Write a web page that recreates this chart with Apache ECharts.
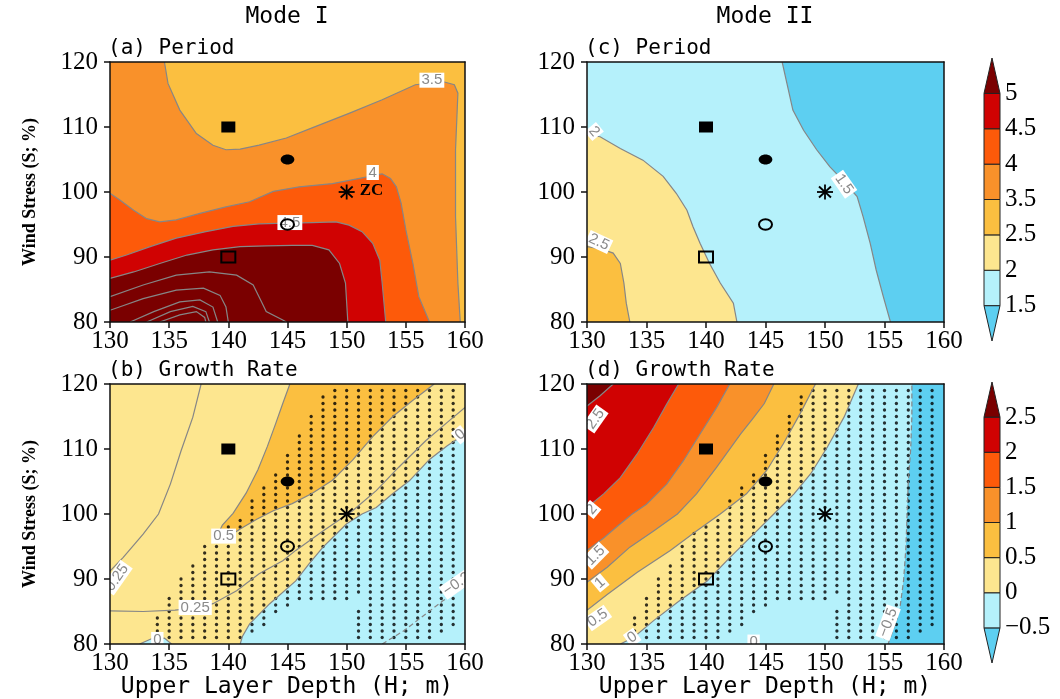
<!DOCTYPE html>
<html><head><meta charset="utf-8">
<script src="https://cdn.jsdelivr.net/npm/echarts@6/dist/echarts.min.js"></script>
<style>html,body{margin:0;padding:0;background:#fff}#c{width:1060px;height:699px}</style>
</head><body><div id="c"></div>
<script>
// ================= DATA =================
const xTicks = [130, 135, 140, 145, 150, 155, 160];
const yTicks = [80, 90, 100, 110, 120];
// colour bins, lowest to highest
const binColors = ['#5dcff1', '#b5f1fb', '#fde68f', '#fbbf40', '#f9912a', '#fd5a0a', '#d00202', '#7a0000'];
const periodBarLabels = ['1.5', '2', '2.5', '3.5', '4', '4.5', '5'];
const growthBarLabels = ['\u22120.5', '0', '0.5', '1', '1.5', '2', '2.5'];

// experiment markers (H, S)
const markerX = [140, 145, 150, 145, 140];
const markerY = [110, 105, 100, 95, 90];
const markerKind = ['fsquare', 'fcircle', 'star', 'ocircle', 'osquare'];

// ---- panel (a) Mode I period contours [H, S]
const a_c35 = [[134.6,120],[134.9,116.7],[135.9,112.6],[137.3,109.0],[138.7,107.2],[139.8,106.5],[141.0,106.6],[142.6,107.2],[144.9,108.3],[147.4,110.1],[150.2,112.1],[153.0,114.2],[155.8,116.5],[158.1,117.0],[159.1,116.5],[159.4,115.2],[159.2,106.5],[159.2,96.2],[159.4,86.0],[159.6,80]];
const a_c4 = [[130,99.8],[130.8,98.8],[132.0,97.2],[133.1,95.9],[134.2,95.4],[135.6,95.7],[137.6,96.7],[139.8,97.7],[141.8,98.5],[143.8,100.1],[146.0,100.8],[148.8,101.3],[151.1,102.1],[153.0,102.8],[153.7,102.1],[154.2,100.8],[154.6,98.3],[155.0,94.2],[155.6,89.0],[156.1,83.9],[157.0,80]];
const a_c45 = [[130,89.5],[131.4,90.3],[133.4,91.6],[135.6,92.9],[138.1,93.9],[140.4,94.7],[142.6,95.1],[144.9,95.2],[147.1,95.3],[149.1,95.4],[150.2,94.9],[151.3,93.9],[152.2,92.1],[152.8,89.5],[153.0,86.0],[153.3,80]];
const a_c5 = [[130,86.7],[132.0,87.7],[134.2,89.0],[136.5,90.3],[138.7,91.1],[141.0,91.6],[143.2,91.7],[145.4,91.8],[147.1,91.8],[148.5,91.1],[149.4,89.0],[149.9,86.0],[150.1,80]];
const a_c55 = [[130,83.9],[132.8,85.7],[135.6,87.2],[138.4,87.7],[140.7,87.2],[142.1,85.7],[142.8,83.1],[143.2,81.6],[144.6,80.3],[144.9,80]];
const a_c6 = [[130,81.8],[132.8,83.6],[135.6,84.9],[137.9,85.2],[139.3,84.1],[139.8,82.3],[140,80]];
const a_c65 = [[131.7,80],[133.7,81.6],[135.9,83.1],[137.6,83.4],[138.7,82.3],[139.1,80]];
const a_c7 = [[133.1,80],[135.1,81.6],[137.0,82.4],[138.1,81.6],[138.4,80]];
const a_c75 = [[134.2,80],[135.9,81.1],[137.3,81.6],[138.0,80.7],[138.1,80]];

// ---- panel (c) Mode II period contours
const c_c15 = [[146.4,120],[146.8,116.7],[147.3,112.6],[148.2,109.5],[149.3,106.5],[150.4,103.9],[151.5,101.8],[152.7,99.3],[153.2,96.2],[153.8,92.1],[154.3,88.0],[154.9,83.9],[155.5,80]];
const c_c2 = [[130,108.8],[131.1,108.5],[132.8,106.7],[134.7,104.9],[136.4,102.4],[137.5,99.8],[138.4,97.2],[138.9,94.7],[139.5,92.1],[140.3,89.0],[141.2,86.0],[142.3,82.9],[142.6,80]];
const c_c25 = [[130,91.6],[131.1,91.3],[132.2,90.6],[132.8,89.0],[133.1,86.0],[133.3,82.9],[133.6,80]];

// ---- panel (b) Mode I growth-rate contours
const b_c05 = [[145.2,120],[144.6,117.0],[144.0,113.9],[143.3,110.4],[142.5,106.8],[141.5,103.2],[140.4,100.1],[139.5,98.3],[139.1,96.8],[139.2,96.1],[139.9,96.4],[141.0,97.7],[142.4,99.2],[143.8,100.5],[145.4,101.6],[147.1,103.2],[148.8,105.2],[150.5,108.3],[152.2,111.9],[153.9,115.0],[155.6,117.5],[157.4,120]];
const b_c0 = [[160,112.3],[158.5,110.5],[157,108.4],[155.3,105.1],[153.8,103],[152.5,101],[151.3,100],[150,98.5],[148,94.9],[146.8,92.3],[145.7,89.7],[143.5,86.2],[141.8,83.1],[141.2,81.2],[141,80]];
const b_c0patch = [[132.5,80],[133.5,80.8],[134.6,80.9],[135.2,80]];
const b_c025a = [[137.7,120],[137.0,114.9],[136.0,109.7],[135.1,104.6],[134.1,100],[132.8,96.9],[131.1,93.3],[130,91.2]];
const b_c025b = [[130,85.1],[132.8,85.0],[135.5,85.2],[137.5,85.6],[138.7,86.2],[140.7,88.2],[142.6,90.8],[144.6,92.8],[145.7,94.4],[148,97.4],[149.7,99.5],[150.5,100.5],[152.5,103.6],[154.4,107.2],[156.7,111.3],[158.7,114.4],[160,116.4]];
const b_cm025 = [[153.0,80],[154.8,82.0],[156.6,84.5],[158.1,86.6],[160,88.8]];

// ---- panel (d) Mode II growth-rate contours
const d_c25 = [[130,116.6],[131.1,118.2],[132.2,120]];
const d_c2 = [[137.7,120],[136.7,116.9],[135.6,113.3],[134.2,109.2],[132.8,105.6],[131.4,103.1],[130,101.0]];
const d_c15 = [[142.0,120],[140.9,116.4],[139.5,112.3],[138.1,108.2],[136.7,104.6],[135.0,101.5],[133.8,100],[132.6,98.2],[131.4,96.3],[130,94.4]];
const d_c1 = [[145.7,120],[144.9,117],[143.9,114.6],[142.9,112.3],[140.9,107.2],[139.2,103.1],[137.6,100],[135.6,97.4],[133.6,94.9],[131.7,91.8],[130,89.5]];
const d_c05 = [[149.2,120],[147.9,115.4],[146.5,110.8],[145.1,106.7],[143.4,103.1],[141.2,100],[139.2,97.4],[137,94.4],[134.2,91.0],[131.7,87.6],[130,85.2]];
const d_c0 = [[152.8,120],[151.6,114.9],[150.2,110.3],[148.8,106.2],[147.4,103.1],[145.7,100],[144,96.9],[142,93.3],[140.1,89.7],[137.8,86.7],[135.6,83.6],[133.9,81],[132.8,80]];
const d_cm05 = [[155.3,80],[155.8,82.6],[156.3,85.6],[156.6,89.7],[156.8,94.9],[156.9,100],[157.0,105],[157.2,110],[157.3,115],[157.3,120]];

// ---- stippling (significance) : rows of S with H ranges
const stippleRows = [
  [119,[[149,159]]],[118,[[148,159]]],[117,[[148,159]]],[116,[[148,159]]],[115,[[147,159]]],
  [114,[[147,159]]],[113,[[147,159]]],[112,[[146,159]]],[111,[[146,159]]],[110,[[146,159]]],
  [109,[[145,159]]],[108,[[145,159]]],[107,[[145,159]]],[106,[[144,159]]],[105,[[144,159]]],
  [104,[[143,159]]],[103,[[143,159]]],[102,[[142,159]]],[101,[[142,159]]],[100,[[142,159]]],
  [99,[[141,159]]],[98,[[140,159]]],[97,[[139,159]]],[96,[[139,159]]],[95,[[138,159]]],
  [94,[[138,159]]],[93,[[138,159]]],[92,[[137,159]]],[91,[[137,159]]],[90,[[136,159]]],
  [89,[[136,159]]],[88,[[136,159]]],[87,[[135,150],[152,159]]],[86,[[135,145],[152,159]]],
  [85,[[135,144],[151,159]]],[84,[[134,143],[151,159]]],[83,[[134,143],[151,159]]],
  [82,[[134,142],[151,158]]],[81,[[135,141],[151,157]]]
];

// contour labels: [text, H, S, angle(deg)]
const labelsA = [['3.5',157.2,117.2,0],['4',152.2,103.0,0],['4.5',145.2,95.3,0]];
const labelsC = [['2',130.6,109.3,-50],['2.5',131.0,92.3,-25],['1.5',151.6,101.2,-55]];
const labelsB = [['0.5',139.6,96.6,0],['0.25',137.2,85.6,0],['0.25',130.6,90.2,55],['0',159.6,112.2,40],['\u22120.25',159.6,89.6,35],['0',134.0,80.7,0]];
const labelsD = [['2.5',130.7,114.6,55],['2',130.4,100.7,50],['1.5',130.7,93.6,45],['1',131.1,89.4,40],['0.5',130.9,84.0,35],['0',133.8,81.0,35],['0',144,80.3,0],['\u22120.5',155.3,83.3,70]];

// ================= BUILD =================
const SERIF = '"Liberation Serif","Times New Roman",serif';
const MONO = '"DejaVu Sans Mono",monospace';
const SANS = '"Liberation Sans",Arial,sans-serif';
const FRAME = [[130,80],[160,80],[160,120],[130,120]];

const grids = [
  {left:110, top:62, width:355, height:260},   // a
  {left:587, top:62, width:357, height:260},   // c
  {left:110, top:384, width:355, height:260},  // b
  {left:587, top:384, width:357, height:260},  // d
  {left:984, top:58, width:16, height:283},    // colorbar period
  {left:984, top:382, width:16, height:281}    // colorbar growth
];

const panels = [
  { base:3, fills:[[a_c35,[[130,80],[130,120]],4],[a_c4,[[130,80]],5],[a_c45,[[130,80]],6],[a_c5,[[130,80]],7]],
    lines:[[a_c35,0],[a_c4,0],[a_c45,0],[a_c5,0],[a_c55,0],[a_c6,0],[a_c65,0],[a_c7,0],[a_c75,0]], labels:labelsA, stipple:false, zc:true },
  { base:1, fills:[[c_c15,[[160,80],[160,120]],0],[c_c2,[[130,80]],2],[c_c25,[[130,80]],3]],
    lines:[[c_c15,0],[c_c2,0],[c_c25,0]], labels:labelsC, stipple:false },
  { base:2, fills:[[b_c05,[],3],[b_c0,[[160,80]],1],[b_c0patch,[],1]],
    lines:[[b_c05,0],[b_c0,0],[b_c0patch,0],[b_c025a,0],[b_c025b,0],[b_cm025,1]], labels:labelsB, stipple:true },
  { base:1, fills:[[d_c0,[[130,80],[130,120]],2],[d_c05,[[130,120]],3],[d_c1,[[130,120]],4],[d_c15,[[130,120]],5],[d_c2,[[130,120]],6],[d_c25,[[130,120]],7],[d_cm05,[[160,120],[160,80]],0]],
    lines:[[d_c0,0],[d_c05,0],[d_c1,0],[d_c15,0],[d_c2,0],[d_c25,0],[d_cm05,1]], labels:labelsD, stipple:true }
];

const stippleData = [];
stippleRows.forEach(([s, ranges]) => ranges.forEach(([h0, h1]) => { for (let h = h0; h <= h1; h++) stippleData.push([h, s]); }));

const xAxis = [], yAxis = [], series = [];
for (let i = 0; i < 4; i++) {
  xAxis.push({type:'value', gridIndex:i, min:130, max:160, interval:5, z:6,
    axisLine:{show:true, onZero:false, lineStyle:{color:'#111', width:1.5}},
    axisTick:{show:true, inside:false, length:6, lineStyle:{color:'#111', width:1.5}},
    axisLabel:{show:true, margin:7, color:'#000', fontFamily:SERIF, fontSize:25},
    splitLine:{show:false}});
  yAxis.push({type:'value', gridIndex:i, min:80, max:120, interval:10, z:6,
    axisLine:{show:true, onZero:false, lineStyle:{color:'#111', width:1.5}},
    axisTick:{show:true, inside:false, length:6, lineStyle:{color:'#111', width:1.5}},
    axisLabel:{show:true, margin:12, color:'#000', fontFamily:SERIF, fontSize:25},
    splitLine:{show:false}});
}
for (let i = 0; i < 4; i++) {
  xAxis.push({type:'value', gridIndex:i, position:'top', min:130, max:160, interval:5, z:6,
    axisLine:{show:true, onZero:false, lineStyle:{color:'#111', width:1.5}}, axisTick:{show:false}, axisLabel:{show:false}, splitLine:{show:false}});
  yAxis.push({type:'value', gridIndex:i, position:'right', min:80, max:120, interval:10, z:6,
    axisLine:{show:true, onZero:false, lineStyle:{color:'#111', width:1.5}}, axisTick:{show:false}, axisLabel:{show:false}, splitLine:{show:false}});
}
[periodBarLabels, growthBarLabels].forEach((labs, k) => {
  xAxis.push({type:'value', gridIndex:4 + k, min:0, max:1, show:false});
  yAxis.push({type:'value', gridIndex:4 + k, min:-1, max:7, interval:1, position:'right',
    axisLine:{show:false}, axisTick:{show:false}, splitLine:{show:false},
    axisLabel:{show:true, margin:5, color:'#000', fontFamily:SERIF, fontSize:25,
      formatter:(v) => { const r = Math.round(v); return (r >= 0 && r < labs.length) ? labs[r] : ''; }}});
});

panels.forEach((p, i) => {
  // filled contour bands
  series.push({type:'custom', coordinateSystem:'cartesian2d', xAxisIndex:i, yAxisIndex:i, z:1, silent:true, clip:true,
    data:[[145,100]],
    renderItem:(params, api) => {
      const co = (pts) => pts.map(q => api.coord(q));
      const children = [{type:'polygon', shape:{points:co(FRAME)}, style:{fill:binColors[p.base]}}];
      p.fills.forEach(([pts, close, bin]) => children.push({type:'polygon', shape:{points:co(pts.concat(close))}, style:{fill:binColors[bin]}}));
      return {type:'group', children};
    }});
  // stippling
  if (p.stipple) {
    series.push({type:'scatter', xAxisIndex:i, yAxisIndex:i, z:3, silent:true, symbol:'circle', symbolSize:3.3,
      itemStyle:{color:'#000'}, data:stippleData, animation:false});
  }
  // contour lines and labels
  series.push({type:'custom', coordinateSystem:'cartesian2d', xAxisIndex:i, yAxisIndex:i, z:4, silent:true, clip:true,
    data:[[145,100]],
    renderItem:(params, api) => {
      const children = [];
      p.lines.forEach(([pts, dashed]) => children.push({type:'polyline', shape:{points:pts.map(q => api.coord(q))},
        style:{stroke:'#868686', lineWidth:1.2, fill:null, lineDash:dashed ? [5,3] : null}}));
      p.labels.forEach(([t, h, s, ang]) => { const c = api.coord([h, s]);
        children.push({type:'text', x:c[0], y:c[1], rotation:ang * Math.PI / 180,
          style:{text:t, fill:'#8a8a8a', font:'15px ' + SANS, align:'center', verticalAlign:'middle', backgroundColor:'#fff', padding:[0,2,0,2]}}); });
      return {type:'group', children};
    }});
  // markers
  series.push({type:'custom', coordinateSystem:'cartesian2d', xAxisIndex:i, yAxisIndex:i, z:5, silent:true,
    data:markerX.map((x, k) => [x, markerY[k], k]),
    renderItem:(params, api) => {
      const c = api.coord([api.value(0), api.value(1)]);
      const kind = markerKind[api.value(2)];
      const [cx, cy] = c;
      const kids = [];
      if (kind === 'fsquare') kids.push({type:'rect', shape:{x:cx-7, y:cy-5.5, width:14, height:11}, style:{fill:'#000'}});
      if (kind === 'osquare') kids.push({type:'rect', shape:{x:cx-7, y:cy-5.5, width:14, height:11}, style:{fill:null, stroke:'#000', lineWidth:2}});
      if (kind === 'fcircle') kids.push({type:'ellipse', shape:{cx, cy, rx:6.8, ry:5}, style:{fill:'#000'}});
      if (kind === 'ocircle') kids.push({type:'ellipse', shape:{cx, cy, rx:6.5, ry:5.3}, style:{fill:null, stroke:'#000', lineWidth:2}});
      if (kind === 'star') {
        [[-8,0,8,0],[0,-7.5,0,7.5],[-6,-5.5,6,5.5],[-6,5.5,6,-5.5]].forEach(([x1,y1,x2,y2]) =>
          kids.push({type:'line', shape:{x1:cx+x1, y1:cy+y1, x2:cx+x2, y2:cy+y2}, style:{stroke:'#000', lineWidth:1.8}}));
        if (p.zc) kids.push({type:'text', x:cx+13, y:cy-1, style:{text:'ZC', fill:'#000', font:'bold 17px ' + SERIF, align:'left', verticalAlign:'middle'}});
      }
      return {type:'group', children:kids};
    }});
});

// colour bars
[0, 1].forEach(k => {
  series.push({type:'custom', coordinateSystem:'cartesian2d', xAxisIndex:8 + k, yAxisIndex:8 + k, z:2, silent:true, clip:false,
    data:binColors.map((c, j) => [0, j]),
    renderItem:(params, api) => {
      const j = api.value(1);
      const col = binColors[j];
      let pts;
      if (j === 0) pts = [api.coord([0,0]), api.coord([1,0]), api.coord([0.5,-1])];
      else if (j === binColors.length - 1) pts = [api.coord([0,6]), api.coord([1,6]), api.coord([0.5,7])];
      else pts = [api.coord([0,j-1]), api.coord([1,j-1]), api.coord([1,j]), api.coord([0,j])];
      return {type:'polygon', shape:{points:pts}, style:{fill:col, stroke:'#222', lineWidth:1}};
    }});
});

const graphic = [
  {type:'text', x:287, y:17, style:{text:'Mode I', font:'23px ' + MONO, fill:'#000', align:'center', verticalAlign:'middle'}},
  {type:'text', x:765, y:17, style:{text:'Mode II', font:'23px ' + MONO, fill:'#000', align:'center', verticalAlign:'middle'}},
  {type:'text', x:108, y:49, style:{text:'(a) Period', font:'21px ' + MONO, fill:'#000', align:'left', verticalAlign:'middle'}},
  {type:'text', x:585, y:49, style:{text:'(c) Period', font:'21px ' + MONO, fill:'#000', align:'left', verticalAlign:'middle'}},
  {type:'text', x:108, y:371, style:{text:'(b) Growth Rate', font:'21px ' + MONO, fill:'#000', align:'left', verticalAlign:'middle'}},
  {type:'text', x:585, y:371, style:{text:'(d) Growth Rate', font:'21px ' + MONO, fill:'#000', align:'left', verticalAlign:'middle'}},
  {type:'text', x:30, y:192, rotation:Math.PI / 2, style:{text:'Wind Stress (S; %)', font:'bold 18px ' + SERIF, fill:'#000', align:'center', verticalAlign:'middle'}},
  {type:'text', x:30, y:514, rotation:Math.PI / 2, style:{text:'Wind Stress (S; %)', font:'bold 18px ' + SERIF, fill:'#000', align:'center', verticalAlign:'middle'}},
  {type:'text', x:287, y:687, style:{text:'Upper Layer Depth (H; m)', font:'23px ' + MONO, fill:'#000', align:'center', verticalAlign:'middle'}},
  {type:'text', x:765, y:687, style:{text:'Upper Layer Depth (H; m)', font:'23px ' + MONO, fill:'#000', align:'center', verticalAlign:'middle'}}
];

const chart = echarts.init(document.getElementById('c'), null, {renderer:'canvas'});
chart.setOption({animation:false, backgroundColor:'#fff', grid:grids, xAxis, yAxis, series, graphic});
</script></body></html>
